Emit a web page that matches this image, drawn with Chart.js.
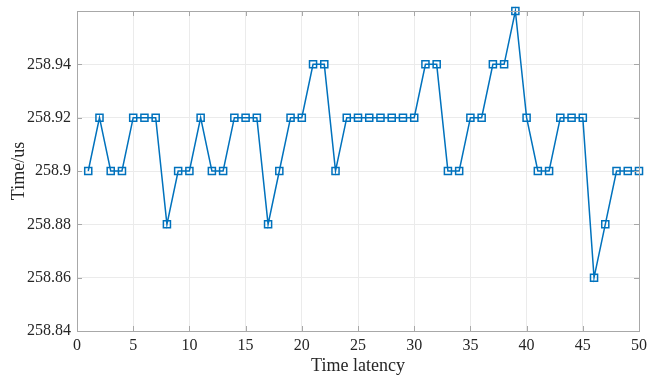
<!DOCTYPE html>
<html>
<head>
<meta charset="utf-8">
<script src="https://cdn.jsdelivr.net/npm/chart.js@4/dist/chart.umd.min.js"></script>
<style>
  html, body { margin: 0; padding: 0; background: #fff; }
  #wrap { width: 649px; height: 377px; }
</style>
</head>
<body>
<div id="wrap"><canvas id="chart" width="649" height="377"></canvas></div>
<script>
const latency = [];
for (let i = 1; i <= 50; i++) latency.push(i);

const timeUs = [
  258.90, 258.92, 258.90, 258.90, 258.92, 258.92, 258.92, 258.88, 258.90, 258.90,
  258.92, 258.90, 258.90, 258.92, 258.92, 258.92, 258.88, 258.90, 258.92, 258.92,
  258.94, 258.94, 258.90, 258.92, 258.92, 258.92, 258.92, 258.92, 258.92, 258.92,
  258.94, 258.94, 258.90, 258.90, 258.92, 258.92, 258.94, 258.94, 258.96, 258.92,
  258.90, 258.90, 258.92, 258.92, 258.92, 258.86, 258.88, 258.90, 258.90, 258.90
];

const xTicks = [0, 5, 10, 15, 20, 25, 30, 35, 40, 45, 50];
const yTicks = [258.84, 258.86, 258.88, 258.90, 258.92, 258.94, 258.96];
const yLabels = ['258.84', '258.86', '258.88', '258.9', '258.92', '258.94', ''];

const font = 'Liberation Serif, Times New Roman, serif';
const boxColor = '#a8a8a8';

// MATLAB style inward ticks on all four sides
const innerTicks = {
  id: 'innerTicks',
  afterDraw(chart) {
    const { ctx, chartArea: a, scales: { x, y } } = chart;
    ctx.save();
    ctx.strokeStyle = boxColor;
    ctx.lineWidth = 1;
    ctx.beginPath();
    xTicks.forEach(v => {
      const px = Math.round(x.getPixelForValue(v)) + 0.5;
      ctx.moveTo(px, a.bottom); ctx.lineTo(px, a.bottom - 5);
      ctx.moveTo(px, a.top); ctx.lineTo(px, a.top + 5);
    });
    yTicks.forEach(v => {
      const py = Math.round(y.getPixelForValue(v)) + 0.5;
      ctx.moveTo(a.left, py); ctx.lineTo(a.left + 5, py);
      ctx.moveTo(a.right, py); ctx.lineTo(a.right - 5, py);
    });
    ctx.stroke();
    ctx.strokeRect(a.left + 0.5, a.top + 0.5, a.right - a.left, a.bottom - a.top);
    ctx.restore();
  }
};

new Chart(document.getElementById('chart').getContext('2d'), {
  type: 'line',
  data: {
    datasets: [{
      data: latency.map((v, i) => ({ x: v, y: timeUs[i] })),
      borderColor: '#0072BD',
      borderWidth: 1.5,
      pointStyle: 'rect',
      pointRadius: 5,
      pointBorderWidth: 1.5,
      pointBorderColor: '#0072BD',
      pointBackgroundColor: 'rgba(255,255,255,0)',
      tension: 0,
      clip: false
    }]
  },
  plugins: [innerTicks],
  options: {
    responsive: false,
    animation: false,
    layout: { padding: { top: 11, right: 10, left: 0, bottom: 0 } },
    plugins: { legend: { display: false }, tooltip: { enabled: false } },
    scales: {
      x: {
        type: 'linear',
        min: 0, max: 50,
        afterBuildTicks: s => { s.ticks = xTicks.map(v => ({ value: v })); },
        afterFit: s => { s.height = 46; s.paddingLeft = 0; s.paddingRight = 0; },
        grid: { color: '#ebebeb', drawTicks: false },
        border: { display: false },
        ticks: { color: '#262626', font: { family: font, size: 16 }, padding: 5, maxRotation: 0 },
        title: { display: true, text: 'Time latency', color: '#262626', font: { family: font, size: 18 }, padding: { top: 0, bottom: 0 } }
      },
      y: {
        type: 'linear',
        min: 258.84, max: 258.96,
        afterBuildTicks: s => { s.ticks = yTicks.map(v => ({ value: v })); },
        afterFit: s => { s.width = 77; s.paddingTop = 0; s.paddingBottom = 0; },
        grid: { color: '#ebebeb', drawTicks: false },
        border: { display: false },
        ticks: {
          color: '#262626', font: { family: font, size: 16 }, padding: 6,
          callback: (v, i) => yLabels[i]
        },
        title: { display: true, text: 'Time/us', color: '#262626', font: { family: font, size: 18 }, padding: { top: 8, bottom: 0 } }
      }
    }
  }
});
</script>
</body>
</html>
